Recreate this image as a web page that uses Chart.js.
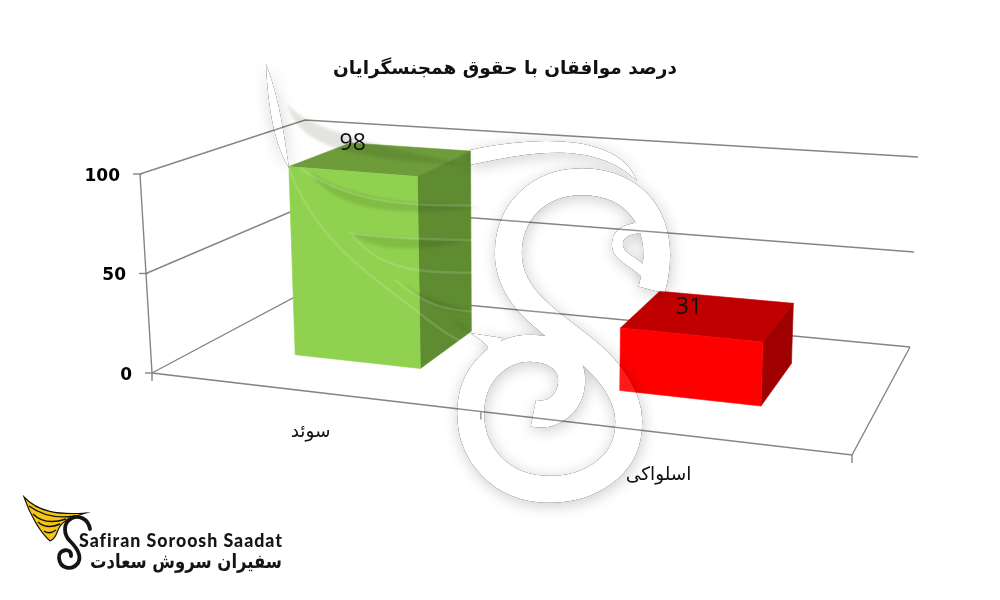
<!DOCTYPE html>
<html><head><meta charset="utf-8">
<style>html,body{margin:0;padding:0;background:#fff}canvas{display:block}</style>
<script src="https://cdn.jsdelivr.net/npm/chart.js@4"></script>
</head><body><canvas id="c" width="1000" height="600"></canvas>
<script>
const categories = ['سوئد', 'اسلواکی'];
const values = [98, 31];
const yTickStep = 50;
const titleText = 'درصد موافقان با حقوق همجنسگرایان';
const frontColors = ['#90D14F', '#FF0000'];
const topColors = ['#6E9C3B', '#C00000'];
const sideColors = ['#5F8B31', '#A00000'];

// Box of the 3D plot on screen: [u, v, w] corners
const C000=[152,373],C100=[852,455],C001=[308,290],C101=[910,347],
      C010=[140,174],C110=[862,235],C011=[305,120],C111=[918,157];
const K=0.886, DEPTH0=0.34, DEPTH1=0.75;
const labelShift=[[-27,-15],[-18,-8]], catShift=[[-1,40],[-2,43]];
const warp=u=>K*u/(1+(K-1)*u);
function project(u,v,w){
  const a=warp(u),b=v,c=w;
  return [0,1].map(i=>
    (1-a)*(1-b)*(1-c)*C000[i]+a*(1-b)*(1-c)*C100[i]+(1-a)*(1-b)*c*C001[i]+a*(1-b)*c*C101[i]+
    (1-a)*b*(1-c)*C010[i]+a*b*(1-c)*C110[i]+(1-a)*b*c*C011[i]+a*b*c*C111[i]);
}
function quad(ctx,pts,fill){
  ctx.beginPath();pts.forEach((p,i)=>i?ctx.lineTo(p[0],p[1]):ctx.moveTo(p[0],p[1]));ctx.closePath();
  ctx.fillStyle=fill;ctx.strokeStyle=fill;ctx.lineWidth=.6;ctx.fill();ctx.stroke();
}
function poly(ctx,pts){ctx.beginPath();pts.forEach((p,i)=>i?ctx.lineTo(p[0],p[1]):ctx.moveTo(p[0],p[1]));ctx.stroke();}
const norm=(chart)=>{const a=chart.chartArea;return {
  u:x=>(x-a.left)/(a.right-a.left), v:y=>(a.bottom-y)/(a.bottom-a.top)};};

function buildWatermark(){
  const cv=document.createElement('canvas');cv.width=1000;cv.height=600;
  const g=cv.getContext('2d');
  const pt=(x,y)=>[x/3+450,y/3+130];
  const S=new Path2D();
  const c=(a,b,d,e,f,h)=>{const p=pt(a,b),q=pt(d,e),r=pt(f,h);S.bezierCurveTo(p[0],p[1],q[0],q[1],r[0],r[1]);};
  let m=pt(605,480);S.moveTo(m[0],m[1]);
  c(660,280,560,155,395,155);
  c(260,155,175,250,175,370);
  c(175,520,330,590,430,680);
  c(500,745,545,820,535,900);
  c(525,1010,420,1078,300,1078);
  c(150,1078,62,970,62,850);
  c(62,730,150,655,240,655);
  c(320,655,368,700,365,755);
  c(362,820,310,862,250,850);
  const head=new Path2D();
  let h=pt(600,440);head.moveTo(h[0],h[1]);
  const hc=(a,b,d,e,f,i)=>{const p=pt(a,b),q=pt(d,e),r=pt(f,i);head.bezierCurveTo(p[0],p[1],q[0],q[1],r[0],r[1]);};
  hc(540,385,500,380,502,340);hc(505,300,550,295,585,290);
  const neck=new Path2D();neck.moveTo(470,165);neck.bezierCurveTo(530,152,595,140,637,181);
  neck.bezierCurveTo(620,135,540,135,470,150);neck.closePath();
  const tail=new Path2D();tail.moveTo(470,333);tail.quadraticCurveTo(490,345,488,350);tail.quadraticCurveTo(500,345,503,338);tail.closePath();
  const wingTip=new Path2D();wingTip.moveTo(266,64);wingTip.bezierCurveTo(268,110,275,145,289,168);wingTip.bezierCurveTo(284,135,280,100,266,64);wingTip.closePath();
  const draw=()=>{g.lineCap='butt';g.lineJoin='round';
    g.lineWidth=27;g.stroke(S);g.lineWidth=11;g.stroke(head);
    g.fill(neck);g.fill(tail);g.fill(wingTip);};
  g.save();g.shadowColor='rgba(0,0,0,.2)';g.shadowBlur=15;g.shadowOffsetX=1;g.shadowOffsetY=3;
  g.strokeStyle='#000';g.fillStyle='#000';draw();g.restore();
  g.globalCompositeOperation='destination-out';g.strokeStyle='#000';g.fillStyle='#000';draw();
  g.globalCompositeOperation='source-over';g.strokeStyle='rgba(255,255,255,.1)';g.fillStyle='rgba(255,255,255,.1)';draw();
  // wedges between the wing feathers
  const gaps=[
    [[287,103],[298,145],[345,160],[470,165],[345,140],[300,122],[470,150]],
    [[310,172],[335,212],[400,217],[483,207],[405,204],[350,198],[483,207]],
    [[349,233],[375,252],[420,252],[470,240],[420,241],[385,236],[470,240]],
    [[400,281],[425,305],[450,315],[470,310],[440,303],[420,296],[470,310]],
    [[453,320],[460,327],[466,331],[472,334],[462,324],[457,321],[472,334]]
  ];
  g.save();g.filter='blur(1.5px)';g.fillStyle='rgba(30,50,10,.13)';
  gaps.forEach(q=>{g.beginPath();g.moveTo(q[0][0],q[0][1]);g.bezierCurveTo(q[1][0],q[1][1],q[2][0],q[2][1],q[3][0],q[3][1]);
    g.bezierCurveTo(q[4][0],q[4][1],q[5][0],q[5][1],q[0][0],q[0][1]);g.fill();});
  g.restore();
  g.save();g.filter='blur(.6px)';g.strokeStyle='rgba(255,255,255,.14)';g.lineWidth=2.5;
  const ln=(a,b,d,e)=>{g.beginPath();g.moveTo(a[0],a[1]);g.bezierCurveTo(b[0],b[1],d[0],d[1],e[0],e[1]);g.stroke();};
  ln([289,168],[315,240],[370,275],[418,312]);
  ln([418,312],[440,330],[455,340],[480,350]);
  ln([300,168],[345,200],[400,208],[485,205]);
  ln([349,233],[385,238],[420,240],[485,240]);
  ln([352,235],[380,270],[420,275],[490,272]);
  ln([395,280],[425,305],[445,312],[490,312]);
  g.restore();
  return cv;
}

function drawLogo(ctx){
  ctx.save();
  ctx.fillStyle='#F6C414';ctx.strokeStyle='#111';ctx.lineWidth=1.1;
  const w=new Path2D();w.moveTo(24,497);w.bezierCurveTo(38,512,58,515,86,513);w.bezierCurveTo(72,517,62,520,58,530);
  w.bezierCurveTo(56,536,54,540,50,541);w.bezierCurveTo(40,532,30,515,24,497);w.closePath();
  ctx.fill(w);ctx.stroke(w);
  [[29,506,48,520,75,516],[33,514,45,526,66,519],[38,522,47,530,60,524],[44,531,49,535,56,530]].forEach(s=>{
    ctx.beginPath();ctx.moveTo(s[0],s[1]);ctx.quadraticCurveTo(s[2],s[3],s[4],s[5]);ctx.lineWidth=1.4;ctx.stroke();});
  ctx.strokeStyle='#151515';ctx.lineCap='round';
  ctx.lineWidth=3.8;ctx.beginPath();ctx.moveTo(90,529);
  ctx.bezierCurveTo(88,518,78,515,72,518);ctx.bezierCurveTo(62,523,64,535,70,541);
  ctx.bezierCurveTo(78,549,82,556,78,563);ctx.bezierCurveTo(72,571,60,569,59,558);
  ctx.bezierCurveTo(58,549,72,547,71,556);ctx.stroke();
  ctx.fillStyle='#151515';
  ctx.font='900 18px "Lato"';ctx.textBaseline='middle';ctx.textAlign='left';
  ctx.letterSpacing='1px';
  ctx.fillText('Safiran Soroosh Saadat',79,541,204);
  ctx.letterSpacing='0px';
  ctx.font='bold 20px "DejaVu Sans"';ctx.textAlign='right';
  ctx.fillText('سفیران سروش سعادت',282,563,192);
  ctx.restore();
}

const plot3d={
  id:'plot3d',
  beforeDatasetsDraw(chart){
    const ctx=chart.ctx,ys=chart.scales.y,n=norm(chart);
    ctx.save();ctx.strokeStyle='#858585';ctx.lineWidth=1.4;
    ys.ticks.forEach((t,i)=>{
      const v=n.v(ys.getPixelForTick(i));
      poly(ctx,[project(0,v,0),project(0,v,1),project(1,v,1)]);
      const p=project(0,v,0);poly(ctx,[[p[0]-7,p[1]],[p[0]+2,p[1]]]);
      ctx.fillStyle='#000';ctx.font='bold 17px "DejaVu Sans"';ctx.textAlign='right';ctx.textBaseline='middle';
      ctx.fillText(t.label,p[0]-20,p[1]+2.5);
    });
    poly(ctx,[project(0,1,0),project(0,0,0),project(1,0,0),project(1,0,1)]);
    for(let i=0;i<=categories.length;i++){const p=project(i/categories.length,0,0);poly(ctx,[p,[p[0],p[1]+8]]);}
    ctx.restore();
  },
  beforeDatasetDraw(chart,args){
    const ctx=chart.ctx,n=norm(chart),meta=args.meta;
    meta.data.forEach((b,i)=>{
      const u0=n.u(b.x-b.width/2),u1=n.u(b.x+b.width/2),v=n.v(b.y);
      const P=project;
      quad(ctx,[P(u0,v,DEPTH0),P(u1,v,DEPTH0),P(u1,v,DEPTH1),P(u0,v,DEPTH1)],topColors[i]);
      quad(ctx,[P(u1,0,DEPTH0),P(u1,0,DEPTH1),P(u1,v,DEPTH1),P(u1,v,DEPTH0)],sideColors[i]);
      quad(ctx,[P(u0,0,DEPTH0),P(u1,0,DEPTH0),P(u1,v,DEPTH0),P(u0,v,DEPTH0)],frontColors[i]);
    });
    return false;
  },
  afterDatasetsDraw(chart){
    const ctx=chart.ctx,n=norm(chart),meta=chart.getDatasetMeta(0);
    ctx.drawImage(buildWatermark(),0,0);
    ctx.save();ctx.fillStyle='#111';ctx.textAlign='center';ctx.textBaseline='middle';
    ctx.font='23px "Open Sans"';
    meta.data.forEach((b,i)=>{
      const u0=n.u(b.x-b.width/2),u1=n.u(b.x+b.width/2),v=n.v(b.y);
      const a=project(u0,v,DEPTH0),c=project(u1,v,DEPTH1);
      ctx.fillText(values[i],(a[0]+c[0])/2+labelShift[i][0],(a[1]+c[1])/2+labelShift[i][1]);
    });
    ctx.font='18.5px "DejaVu Sans"';
    const xs=chart.scales.x;
    categories.forEach((name,i)=>{
      const p=project(n.u(xs.getPixelForTick(i)),0,0);
      ctx.fillText(name,p[0]+catShift[i][0],p[1]+catShift[i][1]);
    });
    ctx.restore();
    drawLogo(ctx);
  }
};

new Chart(document.getElementById('c'),{
  type:'bar',
  data:{labels:categories,datasets:[{data:values,backgroundColor:frontColors,barPercentage:.4,categoryPercentage:1}]},
  plugins:[plot3d],
  options:{
    responsive:false,animation:false,
    layout:{padding:{left:155,right:145,top:54,bottom:227}},
    plugins:{legend:{display:false},tooltip:{enabled:false},
      title:{display:true,text:titleText,color:'#111',font:{family:'"DejaVu Sans"',size:18.5,weight:'bold'},padding:{top:4,bottom:94}}},
    scales:{
      x:{display:false,type:'category'},
      y:{display:false,min:0,max:100,ticks:{stepSize:yTickStep}}
    }
  }
});
</script></body></html>
